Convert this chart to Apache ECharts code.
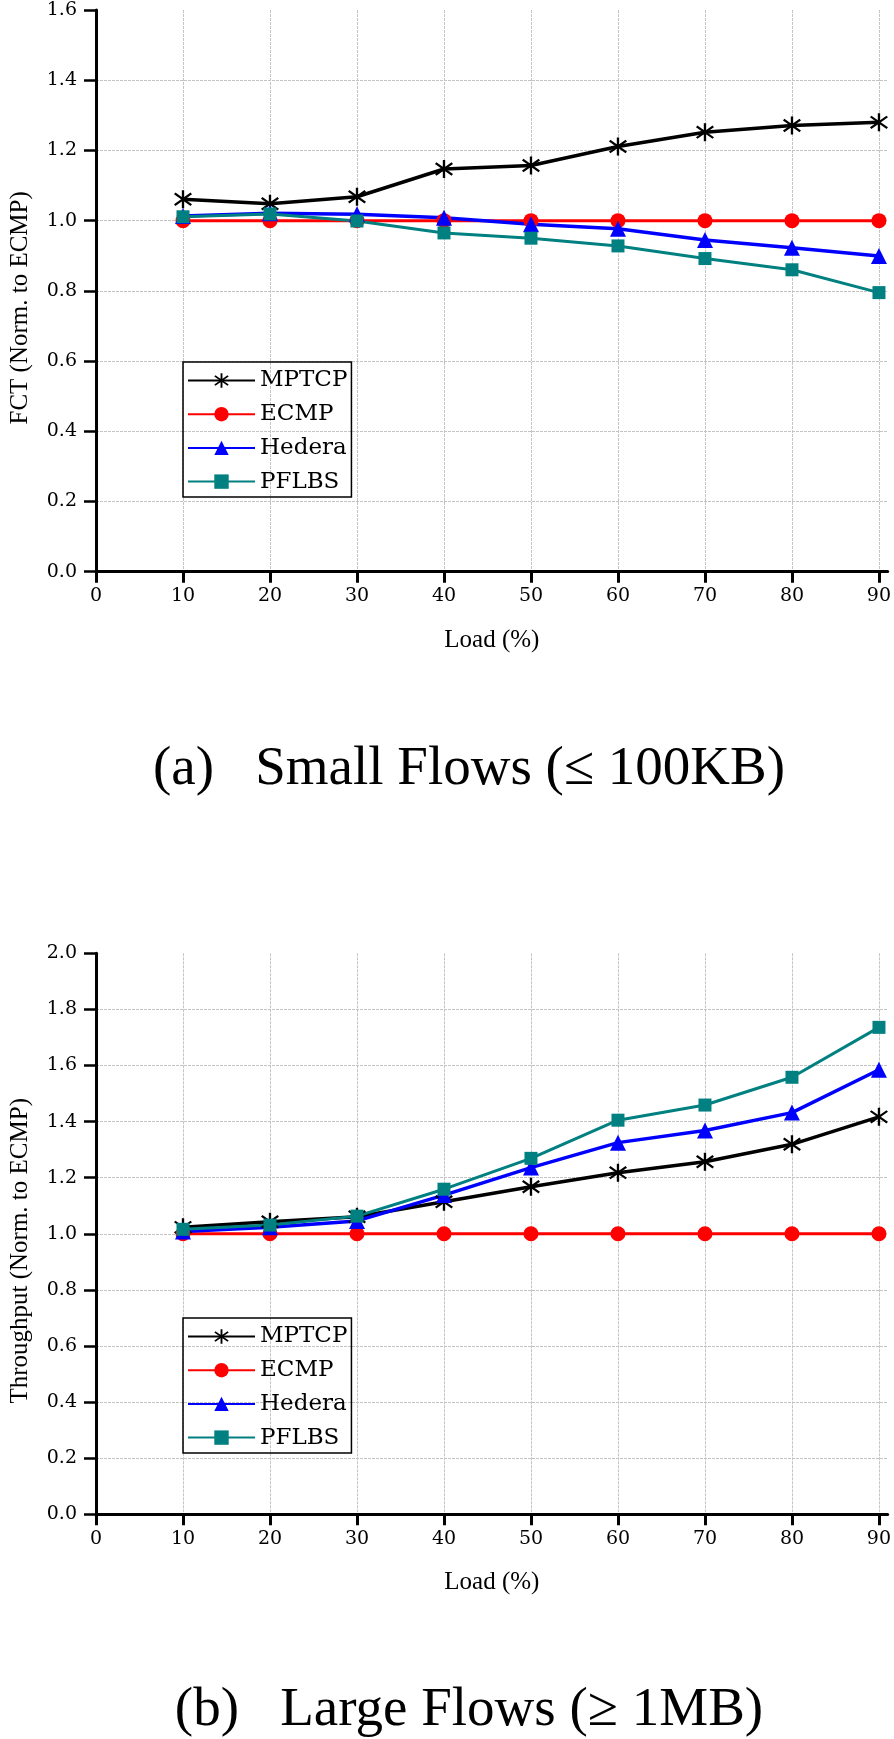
<!DOCTYPE html>
<html><head><meta charset="utf-8">
<script src="https://cdn.jsdelivr.net/npm/echarts@6/dist/echarts.min.js"></script>
<style>html,body{margin:0;padding:0;background:#fff}#c{width:894px;height:1739px}</style>
</head><body><div id="c"></div>
<script>
// ---- data ----
const loads = [10, 20, 30, 40, 50, 60, 70, 80, 90];
const xTickValues = [0, 10, 20, 30, 40, 50, 60, 70, 80, 90];
const seriesNames = ['MPTCP', 'ECMP', 'Hedera', 'PFLBS'];

const mptcpSmall  = [1.061, 1.048, 1.068, 1.147, 1.157, 1.211, 1.252, 1.271, 1.280];
const ecmpSmall   = [1.000, 1.000, 1.000, 1.000, 1.000, 1.000, 1.000, 1.000, 1.000];
const hederaSmall = [1.013, 1.021, 1.018, 1.008, 0.990, 0.977, 0.945, 0.923, 0.899];
const pflbsSmall  = [1.011, 1.019, 0.999, 0.965, 0.950, 0.928, 0.892, 0.860, 0.795];

const mptcpLarge  = [1.023, 1.043, 1.061, 1.114, 1.168, 1.218, 1.257, 1.319, 1.417];
const ecmpLarge   = [1.000, 1.000, 1.000, 1.000, 1.000, 1.000, 1.000, 1.000, 1.000];
const hederaLarge = [1.008, 1.023, 1.046, 1.138, 1.236, 1.325, 1.368, 1.432, 1.585];
const pflbsLarge  = [1.016, 1.031, 1.063, 1.159, 1.269, 1.405, 1.459, 1.558, 1.736];

const xAxisName = 'Load (%)';
const yAxisNameSmall = 'FCT (Norm. to ECMP)';
const yAxisNameLarge = 'Throughput (Norm. to ECMP)';
const captionSmall = '(a)   Small Flows (\u2264 100KB)';
const captionLarge = '(b)   Large Flows (\u2265 1MB)';

// ---- styling ----
const ASTERISK = 'path://M8.8,0 L11.2,0 L11.2,20 L8.8,20 Z M2.23,2.55 L19.23,15.55 L17.77,17.45 L0.77,4.45 Z M2.23,17.45 L0.77,15.55 L17.77,2.55 L19.23,4.45 Z';
const styles = {
  MPTCP:  { color: '#000000', symbol: ASTERISK, size: 18, width: 3.5 },
  ECMP:   { color: '#ff0000', symbol: 'circle', size: 15, width: 3 },
  Hedera: { color: '#0000ff', symbol: 'triangle', size: 16, width: 3.5 },
  PFLBS:  { color: '#008080', symbol: 'rect', size: 13, width: 3 }
};
const TICK_FONT = 'DejaVu Serif';
const NAME_FONT = 'Liberation Serif';
const GRID_LINE = { color: '#c4c4c4', width: 1, type: [3, 1] };

function pairs(vals) { return loads.map((x, i) => [x, vals[i]]); }

function makeSeries(name, vals, idx) {
  const s = styles[name];
  return {
    name: name, type: 'line', xAxisIndex: idx, yAxisIndex: idx,
    data: pairs(vals),
    symbol: s.symbol, symbolSize: s.size,
    showAllSymbol: true,
    lineStyle: { color: s.color, width: s.width },
    itemStyle: { color: s.color },
    emphasis: { disabled: true },
    animation: false
  };
}

function xAxis(idx) {
  return {
    type: 'value', gridIndex: idx, min: 0, max: 91, interval: 10,
    name: xAxisName, nameLocation: 'middle', nameGap: 56,
    nameTextStyle: { fontFamily: NAME_FONT, fontSize: 25, color: '#000' },
    axisLine: { lineStyle: { color: '#000', width: 3 } },
    axisTick: { show: true, inside: false, length: 11, customValues: xTickValues, lineStyle: { color: '#000', width: 3 } },
    axisLabel: { customValues: xTickValues, margin: 15, fontFamily: TICK_FONT, fontSize: 19, color: '#000' },
    splitLine: { show: true, lineStyle: GRID_LINE }
  };
}

function yAxis(idx, max, name) {
  return {
    type: 'value', gridIndex: idx, min: 0, max: max, interval: 0.2,
    name: name, nameLocation: 'middle', nameGap: 63,
    nameTextStyle: { fontFamily: NAME_FONT, fontSize: 25, color: '#000', padding: [0, 34, 0, 0] },
    axisLine: { show: true, lineStyle: { color: '#000', width: 3 } },
    axisTick: { show: true, inside: false, length: 12, lineStyle: { color: '#000', width: 2.5 } },
    axisLabel: { margin: 19, fontFamily: TICK_FONT, fontSize: 19, color: '#000',
      formatter: v => v.toFixed(1) },
    splitLine: { show: true, showMaxLine: false, lineStyle: GRID_LINE }
  };
}

function legend(top) {
  return {
    left: 183, top: top, orient: 'vertical',
    data: seriesNames,
    itemWidth: 67, itemHeight: 18, itemGap: 10.7,
    padding: [7, 4, 4, 4],
    borderColor: '#000', borderWidth: 1.5,
    textStyle: { fontFamily: TICK_FONT, fontSize: 23, color: '#000' },
    selectedMode: false
  };
}

const chart = echarts.init(document.getElementById('c'), null, { renderer: 'canvas' });
chart.setOption({
  backgroundColor: '#ffffff',
  animation: false,
  grid: [
    { left: 91.3, top: 10, width: 799.8, height: 561.7 },
    { left: 91.3, top: 953.3, width: 799.8, height: 561 }
  ],
  xAxis: [xAxis(0), xAxis(1)],
  yAxis: [yAxis(0, 1.6, yAxisNameSmall), yAxis(1, 2.0, yAxisNameLarge)],
  legend: [legend(362), legend(1318)],
  series: [
    makeSeries('MPTCP', mptcpSmall, 0),
    makeSeries('ECMP', ecmpSmall, 0),
    makeSeries('Hedera', hederaSmall, 0),
    makeSeries('PFLBS', pflbsSmall, 0),
    makeSeries('MPTCP', mptcpLarge, 1),
    makeSeries('ECMP', ecmpLarge, 1),
    makeSeries('Hedera', hederaLarge, 1),
    makeSeries('PFLBS', pflbsLarge, 1)
  ],
  graphic: [
    { type: 'text', x: 469, y: 770, silent: true,
      style: { text: captionSmall, font: '55px "Liberation Serif"', fill: '#000',
        align: 'center', verticalAlign: 'middle', textAlign: 'center', textVerticalAlign: 'middle' } },
    { type: 'text', x: 469, y: 1711, silent: true,
      style: { text: captionLarge, font: '55px "Liberation Serif"', fill: '#000',
        align: 'center', verticalAlign: 'middle', textAlign: 'center', textVerticalAlign: 'middle' } }
  ]
});
</script></body></html>
